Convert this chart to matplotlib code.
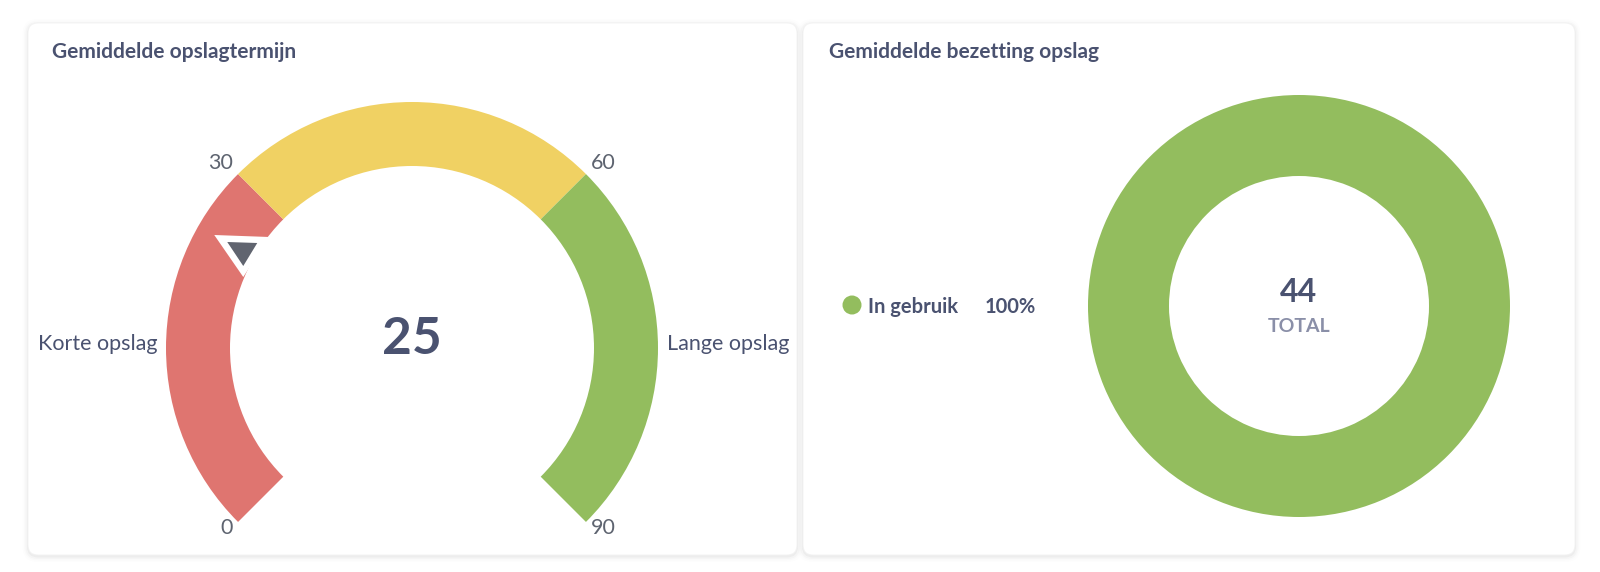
import numpy as np
import matplotlib
matplotlib.use("Agg")
import matplotlib.pyplot as plt
from matplotlib.patches import Wedge, FancyBboxPatch, Polygon, Circle

plt.rcParams['font.family'] = ['Lato', 'DejaVu Sans']

# data
gauge_title = "Gemiddelde opslagtermijn"
gauge_bounds = [0, 30, 60, 90]
gauge_colors = ["#DF7570", "#F0D163", "#93BD5E"]
gauge_value = 25
gauge_left_label = "Korte opslag"
gauge_right_label = "Lange opslag"

donut_title = "Gemiddelde bezetting opslag"
donut_labels = ["In gebruik"]
donut_values = [44]
donut_colors = ["#93BD5E"]

W, H = 1600, 572
TXT = "#4A5270"
GREY = "#5E6470"

fig = plt.figure(figsize=(16, 5.72), dpi=100)
ax = fig.add_axes([0, 0, 1, 1])


def Y(y):
    # pixel-from-top -> data y
    return H - y


def card(x0, x1, y0, y1):
    # soft shadow
    for i, a in enumerate([0.03, 0.02, 0.012, 0.008]):
        p = 1 + i * 1.5
        ax.add_patch(FancyBboxPatch((x0 - p, Y(y1) - p - 1.5), x1 - x0 + 2 * p, y1 - y0 + 2 * p,
                                    boxstyle="round,pad=0,rounding_size=%d" % (10 + p),
                                    fc="#000000", ec="none", alpha=a, zorder=0))
    ax.add_patch(FancyBboxPatch((x0, Y(y1)), x1 - x0, y1 - y0,
                                boxstyle="round,pad=0,rounding_size=10",
                                fc="white", ec="#F2F2F2", lw=0.6, zorder=1))


card(28, 797, 23, 555)
card(803, 1575, 23, 555)

# ---- gauge ----
cx, cy = 412, Y(348)
r_out, band = 246, 64
r_in = r_out - band
vmax = gauge_bounds[-1]


def ang(v):
    return 225 - v * 270.0 / vmax


for lo, hi, c in zip(gauge_bounds[:-1], gauge_bounds[1:], gauge_colors):
    ax.add_patch(Wedge((cx, cy), r_out, ang(hi), ang(lo), width=band, fc=c, ec="none", zorder=2))

for b in gauge_bounds:
    a = np.radians(ang(b))
    px, py = cx + r_out * np.cos(a), cy + r_out * np.sin(a)
    ha = "right" if np.cos(a) < 0 else "left"
    dx = -5 if ha == "right" else 5
    dy = 5 if np.sin(a) > 0 else -12
    ax.text(px + dx, py + dy, str(b), ha=ha, va="baseline", fontsize=15.5, color=GREY, zorder=5)

ax.text(cx - r_out - 8, cy - 2, gauge_left_label, ha="right", va="baseline", fontsize=15.5, color=TXT, zorder=5)
ax.text(cx + r_out + 9, cy - 2, gauge_right_label, ha="left", va="baseline", fontsize=15.5, color=TXT, zorder=5)

ax.text(cx, cy + 8, str(gauge_value), ha="center", va="center", fontsize=37, fontweight="bold", color=TXT, zorder=5)

# pointer
a = np.radians(ang(gauge_value))
pr = r_in + 14
px, py = cx + pr * np.cos(a), cy + pr * np.sin(a)
ax.add_patch(Polygon([(px - 28, py + 15), (px + 27, py + 13), (px + 1, py - 27)], closed=True,
                     fc="white", ec="none", zorder=6))
ax.add_patch(Polygon([(px - 15, py + 8), (px + 15, py + 7), (px + 1, py - 16)], closed=True,
                     fc="#60646F", ec="none", zorder=7))

ax.text(52, Y(58), gauge_title, ha="left", va="baseline", fontsize=15, fontweight="bold", color=TXT, zorder=5)

# ---- donut ----
dcx, dcy = 1299, Y(306)
ax.pie(donut_values, colors=donut_colors, radius=211, center=(dcx, dcy), startangle=90,
       wedgeprops=dict(width=81, edgecolor="none"), frame=True)
total = sum(donut_values)
ax.text(dcx, dcy + 13, str(total), ha="center", va="center", fontsize=23, fontweight="bold", color=TXT, zorder=5)
ax.text(dcx, dcy - 20, "TOTAL", ha="center", va="center", fontsize=14, fontweight="bold", color="#8A8FA8", zorder=5)

ax.text(829, Y(58), donut_title, ha="left", va="baseline", fontsize=15, fontweight="bold", color=TXT, zorder=5)

for i, (lab, v, c) in enumerate(zip(donut_labels, donut_values, donut_colors)):
    ly = Y(305) - i * 30
    ax.add_patch(Circle((852, ly), 9.5, fc=c, ec="none", zorder=5))
    ax.text(868, ly - 8, lab, ha="left", va="baseline", fontsize=14.5, fontweight="bold", color=TXT, zorder=5)
    ax.text(985, ly - 8, "%d%%" % round(100 * v / total), ha="left", va="baseline", fontsize=14.5,
            fontweight="bold", color=TXT, zorder=5)

ax.set_xlim(0, W)
ax.set_ylim(0, H)
ax.set_aspect("equal")
ax.axis("off")

fig.savefig("out.png", dpi=100, facecolor="white")
